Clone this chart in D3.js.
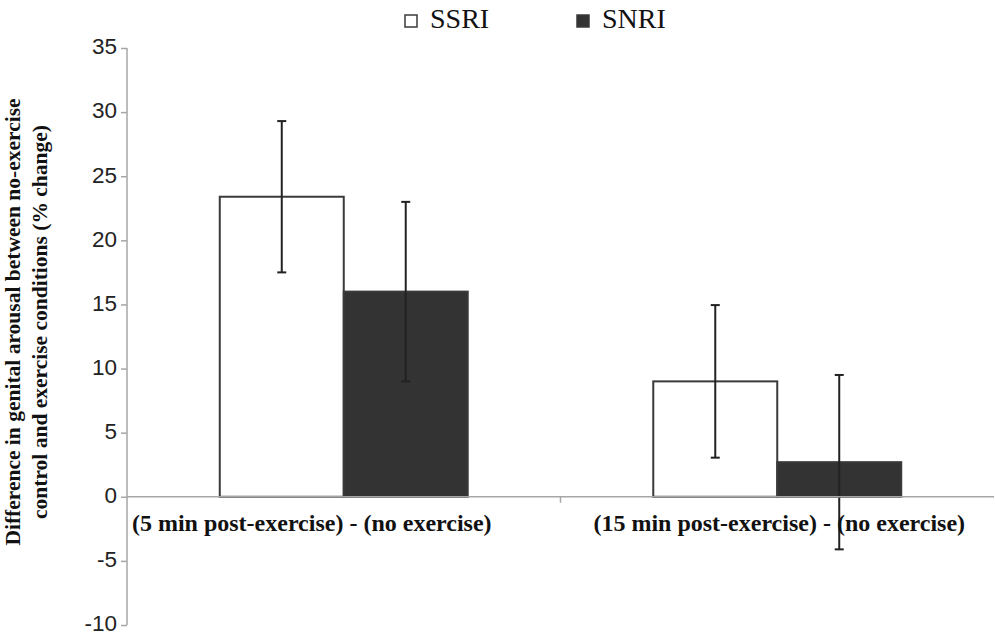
<!DOCTYPE html>
<html><head><meta charset="utf-8">
<script src="https://cdn.jsdelivr.net/npm/d3@7"></script>
<style>body{margin:0;background:#fff}svg{display:block}</style>
</head><body><svg id="c" width="995" height="636"></svg>
<script>
const categories = ["(5 min post-exercise) - (no exercise)", "(15 min post-exercise) - (no exercise)"];
const seriesNames = ["SSRI", "SNRI"];
const ssriValues = [23.4, 9.0];
const snriValues = [16.0, 2.7];
const ssriErrors = [5.9, 5.95];
const snriErrors = [7.0, 6.8];
const yTicks = [-10, -5, 0, 5, 10, 15, 20, 25, 30, 35];
const yTitleLines = ["Difference in genital arousal between no-exercise", "control and exercise conditions (% change)"];

(function () {
const svg = d3.select("#c");
const pL = 127, pR = 994, pT = 48, pB = 625;
const y = d3.scaleLinear().domain([-10, 35]).range([pB, pT]);
const x0 = d3.scaleBand().domain(categories).range([pL, pR]).paddingInner(0.428).paddingOuter(0.214);
const x1 = d3.scaleBand().domain(seriesNames).range([0, x0.bandwidth()]);
const fills = {SSRI: "#ffffff", SNRI: "#333333"};

const data = categories.map((c, i) => ({
  cat: c,
  vals: [
    {s: "SSRI", v: ssriValues[i], e: ssriErrors[i]},
    {s: "SNRI", v: snriValues[i], e: snriErrors[i]}
  ]
}));

// y axis
const yAxis = svg.append("g").attr("transform", `translate(${pL},0)`)
  .call(d3.axisLeft(y).tickValues(yTicks).tickSize(6).tickPadding(4).tickFormat(d => String(d)));
yAxis.select(".domain").attr("stroke", "#a6a6a6").attr("stroke-width", 1.5).attr("d", `M0,${pT}V${pB}`);
yAxis.selectAll(".tick line").attr("stroke", "#a6a6a6").attr("stroke-width", 1.5);
yAxis.selectAll(".tick text").attr("font-family", "Liberation Sans, Arial, sans-serif").attr("font-size", 22.5)
  .attr("dy", "0.26em").attr("fill", "#222");

// bars
const groups = svg.append("g").selectAll("g").data(data).join("g")
  .attr("transform", d => `translate(${x0(d.cat)},0)`);
groups.selectAll("rect").data(d => d.vals).join("rect")
  .attr("x", d => x1(d.s))
  .attr("y", d => y(Math.max(0, d.v)))
  .attr("width", x1.bandwidth())
  .attr("height", d => Math.abs(y(d.v) - y(0)))
  .attr("fill", d => fills[d.s])
  .attr("stroke", "#3a3a3a").attr("stroke-width", 2);

// x axis (zero line)
const xAxis = svg.append("g").attr("transform", `translate(0,${y(0)})`);
xAxis.append("line").attr("x1", pL).attr("x2", pR).attr("stroke", "#a6a6a6").attr("stroke-width", 1.5);
const boundaries = [x0(categories[0]) + x0.bandwidth() + (x0.step() - x0.bandwidth()) / 2];
xAxis.selectAll("line.tk").data(boundaries).join("line").attr("class", "tk")
  .attr("x1", d => d).attr("x2", d => d).attr("y1", 0).attr("y2", 6)
  .attr("stroke", "#a6a6a6").attr("stroke-width", 1.5);

// error bars
const err = groups.selectAll("g.err").data(d => d.vals).join("g").attr("class", "err")
  .attr("stroke", "#222").attr("stroke-width", 2);
const cx = d => x1(d.s) + x1.bandwidth() / 2;
err.append("line")
  .attr("x1", cx).attr("x2", cx)
  .attr("y1", d => y(d.v + d.e)).attr("y2", d => y(d.v - d.e));
err.append("line")
  .attr("x1", d => cx(d) - 4.5).attr("x2", d => cx(d) + 4.5)
  .attr("y1", d => y(d.v + d.e)).attr("y2", d => y(d.v + d.e));
err.append("line")
  .attr("x1", d => cx(d) - 4.5).attr("x2", d => cx(d) + 4.5)
  .attr("y1", d => y(d.v - d.e)).attr("y2", d => y(d.v - d.e));

// category labels
const labelDx = [-32, 2];
svg.append("g").selectAll("text").data(categories).join("text")
  .attr("x", (d, i) => x0(d) + x0.bandwidth() / 2 + labelDx[i])
  .attr("y", y(0) + 34)
  .attr("text-anchor", "middle")
  .attr("font-family", "Liberation Serif, Times New Roman, serif")
  .attr("font-weight", "bold").attr("font-size", 24).attr("fill", "#111")
  .text(d => d);

// y title
const yt = svg.append("text")
  .attr("transform", `translate(20,322) rotate(-90)`)
  .attr("text-anchor", "middle")
  .attr("font-family", "Liberation Serif, Times New Roman, serif")
  .attr("font-weight", "bold").attr("font-size", 21.5).attr("fill", "#111");
yt.selectAll("tspan").data(yTitleLines).join("tspan")
  .attr("x", 0).attr("dy", (d, i) => i === 0 ? 0 : 27).text(d => d);

// legend
const legendX = [405, 577];
const lg = svg.append("g").selectAll("g").data(seriesNames).join("g")
  .attr("transform", (d, i) => `translate(${legendX[i]},15)`);
lg.append("rect").attr("width", 12).attr("height", 12)
  .attr("fill", d => fills[d]).attr("stroke", "#3a3a3a").attr("stroke-width", 1.5);
lg.append("text").attr("x", 25).attr("y", 13)
  .attr("font-family", "Liberation Serif, Times New Roman, serif")
  .attr("font-size", 28).attr("fill", "#111").text(d => d);
})();
</script></body></html>
